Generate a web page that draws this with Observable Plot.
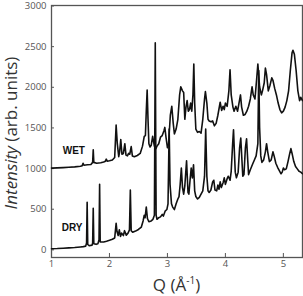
<!DOCTYPE html>
<html>
<head>
<meta charset="utf-8">
<script src="https://cdn.jsdelivr.net/npm/d3@7"></script>
<script src="https://cdn.jsdelivr.net/npm/@observablehq/plot@0.6"></script>
<style>
  html, body { margin: 0; padding: 0; background: #fff; }
</style>
</head>
<body>
<div id="chart"></div>
<script>
const qDry = [1.00,1.10,1.20,1.30,1.40,1.50,1.55,1.59,1.605,1.615,1.625,1.65,1.70,1.71,1.72,1.73,1.77,1.80,1.82,1.83,1.84,1.90,1.95,2.00,2.05,2.09,2.115,2.13,2.15,2.17,2.19,2.21,2.24,2.26,2.29,2.32,2.345,2.36,2.375,2.40,2.45,2.50,2.55,2.58,2.60,2.615,2.635,2.655,2.68,2.72,2.75,2.775,2.79,2.805,2.82,2.85,2.88,2.91,2.93,2.96,2.99,3.01,3.03,3.045,3.07,3.09,3.12,3.15,3.18,3.20,3.22,3.24,3.26,3.28,3.30,3.33,3.355,3.37,3.39,3.41,3.43,3.45,3.47,3.49,3.52,3.55,3.58,3.61,3.64,3.66,3.68,3.70,3.72,3.75,3.78,3.80,3.82,3.85,3.87,3.89,3.91,3.93,3.96,3.98,4.00,4.03,4.05,4.08,4.10,4.125,4.14,4.155,4.17,4.19,4.22,4.245,4.265,4.285,4.30,4.32,4.345,4.365,4.385,4.40,4.43,4.47,4.50,4.53,4.56,4.575,4.59,4.61,4.63,4.66,4.69,4.71,4.73,4.76,4.79,4.82,4.84,4.87,4.90,4.93,4.96,4.98,5.00,5.02,5.05,5.08,5.11,5.13,5.15,5.18,5.21,5.24,5.27,5.30,5.33];
const iDry = [8,10,14,18,23,30,34,40,80,580,60,45,52,80,505,70,62,68,120,800,90,90,100,112,125,140,320,220,170,240,160,200,170,230,175,200,240,730,230,210,225,245,275,350,420,390,520,380,340,350,370,420,2540,420,370,390,400,430,410,470,490,560,1480,800,560,520,490,560,620,650,800,1000,760,680,780,1090,700,680,850,1000,880,1040,720,650,620,640,680,720,900,1480,900,720,700,730,830,850,730,720,790,740,830,760,820,880,800,870,900,850,960,1300,1470,1200,950,880,950,1250,1370,1100,900,920,1250,1360,1100,920,980,1050,1100,1150,1300,2200,1500,1150,1070,1100,1200,1300,1200,1080,1100,1200,1150,1060,1010,970,930,950,1000,980,990,1080,1180,1240,1180,1080,1020,990,960,950,930];

const qWet = [1.00,1.10,1.20,1.30,1.40,1.50,1.53,1.545,1.56,1.62,1.68,1.71,1.72,1.73,1.78,1.85,1.90,1.93,1.945,1.96,2.00,2.05,2.09,2.115,2.135,2.16,2.175,2.195,2.215,2.24,2.265,2.285,2.31,2.33,2.35,2.375,2.395,2.43,2.48,2.53,2.57,2.60,2.62,2.635,2.65,2.665,2.68,2.70,2.72,2.745,2.76,2.775,2.80,2.82,2.85,2.88,2.91,2.94,2.955,2.975,3.00,3.02,3.05,3.075,3.10,3.12,3.15,3.18,3.21,3.23,3.26,3.28,3.30,3.32,3.34,3.36,3.38,3.40,3.42,3.44,3.455,3.47,3.49,3.52,3.55,3.58,3.61,3.64,3.655,3.68,3.70,3.72,3.75,3.78,3.81,3.84,3.87,3.91,3.935,3.96,3.98,4.00,4.03,4.06,4.08,4.10,4.13,4.15,4.18,4.21,4.24,4.26,4.28,4.31,4.34,4.37,4.40,4.43,4.46,4.48,4.51,4.54,4.56,4.59,4.62,4.64,4.67,4.69,4.71,4.74,4.77,4.80,4.82,4.85,4.88,4.91,4.94,4.97,5.00,5.03,5.06,5.09,5.12,5.15,5.165,5.19,5.22,5.25,5.28,5.30,5.33];
const iWet = [1000,1003,1006,1010,1015,1022,1030,1060,1035,1040,1045,1070,1225,1070,1060,1065,1075,1085,1110,1085,1090,1100,1130,1530,1300,1140,1200,1350,1170,1180,1300,1160,1150,1180,1170,1265,1150,1140,1155,1180,1270,1390,1400,1700,1960,1600,1300,1260,1280,1390,1330,1270,1240,1270,1300,1380,1400,1460,1500,1380,1250,1300,1650,1760,1550,1420,1480,1600,1900,2000,1950,1930,1600,1750,1830,1700,1720,1800,1700,1900,2280,1800,1480,1440,1450,1430,1600,1850,1940,1800,1600,1580,1570,1580,1520,1550,1650,1810,1710,1760,1720,1800,1760,1950,2210,1900,1750,1700,1760,1700,1820,1900,1750,1650,1660,1700,1760,1850,2000,1900,1850,2100,2280,2000,1900,1950,2050,2230,2150,1950,2020,2110,2080,1980,1900,1800,1720,1680,1700,1750,1830,1950,2200,2420,2450,2400,2200,1950,1830,1870,1830];

const xTicks = [1, 2, 3, 4, 5];
const yTicks = [0, 500, 1000, 1500, 2000, 2500, 3000];
const seriesNames = ["WET", "DRY"];
const labelQ = [1.385, 1.356];
const labelI = [1218, 267];

const dry = qDry.map((q, i) => ({q, v: iDry[i]}));
const wet = qWet.map((q, i) => ({q, v: iWet[i]}));
const labels = seriesNames.map((name, i) => ({name, q: labelQ[i], v: labelI[i]}));

const svg = Plot.plot({
  width: 303,
  height: 296,
  marginLeft: 51,
  marginRight: 1,
  marginTop: 5,
  marginBottom: 39,
  style: {fontFamily: "'Open Sans', sans-serif", fontSize: "9.5px", color: "#555", background: "#fff"},
  x: {domain: [1, 5.33]},
  y: {domain: [-100, 3000]},
  marks: [
    Plot.frame({stroke: "#555", strokeWidth: 1.3}),
    Plot.axisX({ticks: xTicks, tickSize: -4, tickPadding: 7, label: null, tickFormat: d3.format("d")}),
    Plot.axisY({ticks: yTicks, tickSize: -3, tickPadding: 8, label: null, tickFormat: d3.format("d"), dy: 0.5}),
    Plot.line(dry, {x: "q", y: "v", stroke: "#111", strokeWidth: 1.6}),
    Plot.line(wet, {x: "q", y: "v", stroke: "#111", strokeWidth: 1.6}),
    Plot.text(labels, {x: "q", y: "v", text: "name", fontWeight: "bold", fontSize: 10, fill: "#111", fontFamily: "'Liberation Sans', Arial, sans-serif"})
  ]
});

const s = d3.select(svg);
const xl = s.append("text")
  .attr("x", 176.5).attr("y", 291)
  .attr("text-anchor", "middle")
  .attr("fill", "#333")
  .style("font-size", "17px")
  .style("font-family", "'Open Sans', sans-serif");
xl.append("tspan").text("Q (Å");
xl.append("tspan").attr("dy", -7).style("font-size", "10px").text("-1");
xl.append("tspan").attr("dy", 7).text(")");

const yl = s.append("text")
  .attr("transform", "translate(17,133) rotate(-90)")
  .attr("text-anchor", "middle")
  .attr("fill", "#333")
  .style("font-size", "17px")
  .style("font-family", "'Open Sans', sans-serif");
yl.append("tspan").style("font-style", "italic").text("Intensity");
yl.append("tspan").text(" (arb. units)");

document.getElementById("chart").appendChild(svg);
</script>
</body>
</html>
